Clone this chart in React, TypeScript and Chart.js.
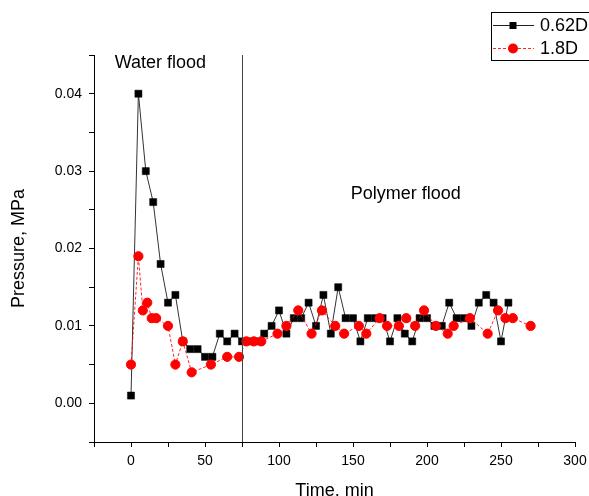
import React, { useEffect, useRef } from "react";
import { Chart, registerables } from "chart.js";

Chart.register(...registerables);

// 0.62D series
const timeA = [0, 5, 10, 15, 20, 25, 30, 35, 40, 45, 50, 55, 60, 65, 70, 75, 80, 85, 90, 95, 100, 105, 110, 115, 120, 125, 130, 135, 140, 145, 150, 155, 160, 165, 170, 175, 180, 185, 190, 195, 200, 205, 210, 215, 220, 225, 230, 235, 240, 245, 250, 255];
const pressA = [0.001, 0.040, 0.030, 0.026, 0.018, 0.013, 0.014, 0.008, 0.007, 0.007, 0.006, 0.006, 0.009, 0.008, 0.009, 0.008, 0.008, 0.008, 0.009, 0.010, 0.012, 0.009, 0.011, 0.011, 0.013, 0.010, 0.014, 0.009, 0.015, 0.011, 0.011, 0.008, 0.011, 0.011, 0.011, 0.008, 0.011, 0.009, 0.008, 0.011, 0.011, 0.010, 0.010, 0.013, 0.011, 0.011, 0.010, 0.013, 0.014, 0.013, 0.008, 0.013];

// 1.8D series
const timeB = [0, 5, 8, 11, 14, 17, 25, 30, 35, 41, 54, 65, 73, 78, 83, 88, 99, 105, 113, 122, 129, 138, 144, 154, 159, 168, 173, 181, 186, 192, 198, 206, 214, 218, 229, 241, 248, 253, 258, 270];
const pressB = [0.005, 0.019, 0.012, 0.013, 0.011, 0.011, 0.010, 0.005, 0.008, 0.004, 0.005, 0.006, 0.006, 0.008, 0.008, 0.008, 0.009, 0.010, 0.012, 0.009, 0.012, 0.010, 0.009, 0.010, 0.009, 0.011, 0.010, 0.010, 0.011, 0.010, 0.012, 0.010, 0.009, 0.010, 0.011, 0.009, 0.012, 0.011, 0.011, 0.010];

const seriesNames = ["0.62D", "1.8D"];
const xTitle = "Time, min";
const yTitle = "Pressure, MPa";
const xRange = [-25, 300];
const yRange = [-0.005, 0.045];
const boundaryTime = 75;
const annotations = [
  { text: "Water flood", x: -11, y: 0.0433 },
  { text: "Polymer flood", x: 148.4, y: 0.0264 },
];

const FONT = "Arial, 'Liberation Sans', sans-serif";

const overlayPlugin = {
  id: "overlay",
  afterDatasetsDraw(chart: any) {
    const ctx = chart.ctx;
    const xs = chart.scales.x;
    const ys = chart.scales.y;
    const area = chart.chartArea;
    ctx.save();
    // boundary line
    const bx = Math.round(xs.getPixelForValue(boundaryTime)) + 0.5;
    ctx.strokeStyle = "#444";
    ctx.lineWidth = 1;
    ctx.beginPath();
    ctx.moveTo(bx, area.top);
    ctx.lineTo(bx, area.bottom);
    ctx.stroke();

    // annotations
    ctx.fillStyle = "#000";
    ctx.font = `18px ${FONT}`;
    ctx.textBaseline = "alphabetic";
    ctx.textAlign = "left";
    for (const a of annotations) {
      ctx.fillText(a.text, xs.getPixelForValue(a.x), ys.getPixelForValue(a.y));
    }

    // axis titles
    ctx.textAlign = "center";
    ctx.fillText(xTitle, (area.left + area.right) / 2, 496);
    ctx.save();
    ctx.translate(24, (area.top + area.bottom) / 2);
    ctx.rotate(-Math.PI / 2);
    ctx.textBaseline = "alphabetic";
    ctx.fillText(yTitle, 0, 0);
    ctx.restore();

    // legend
    ctx.strokeStyle = "#000";
    ctx.lineWidth = 1;
    ctx.strokeRect(491.5, 12.5, 130, 48);
    // row 1
    ctx.strokeStyle = "#222";
    ctx.beginPath();
    ctx.moveTo(493, 25.5);
    ctx.lineTo(534, 25.5);
    ctx.stroke();
    ctx.fillStyle = "#000";
    ctx.fillRect(509.5, 22, 7, 7);
    // row 2
    ctx.strokeStyle = "rgba(255,0,0,0.85)";
    ctx.setLineDash([3, 2]);
    ctx.beginPath();
    ctx.moveTo(493, 48.5);
    ctx.lineTo(534, 48.5);
    ctx.stroke();
    ctx.setLineDash([]);
    ctx.fillStyle = "#ff0000";
    ctx.beginPath();
    ctx.arc(513, 48.5, 5, 0, Math.PI * 2);
    ctx.fill();
    ctx.fillStyle = "#000";
    ctx.textAlign = "left";
    ctx.textBaseline = "middle";
    ctx.fillText(seriesNames[0], 540, 26);
    ctx.fillText(seriesNames[1], 540, 49);
    ctx.restore();
  },
};

export default function App() {
  const ref = useRef<HTMLCanvasElement>(null);
  useEffect(() => {
    if (!ref.current) return;
    const chart = new Chart(ref.current, {
      type: "line",
      data: {
        datasets: [
          {
            label: seriesNames[0],
            data: timeA.map((t, i) => ({ x: t, y: pressA[i] })),
            borderColor: "#333",
            borderWidth: 1,
            pointStyle: "rect",
            pointRadius: 5,
            pointBackgroundColor: "#000",
            pointBorderColor: "#000",
            pointBorderWidth: 0.5,
            tension: 0,
            order: 2,
          },
          {
            label: seriesNames[1],
            data: timeB.map((t, i) => ({ x: t, y: pressB[i] })),
            borderColor: "rgba(255,0,0,0.85)",
            borderWidth: 1,
            borderDash: [3, 2],
            pointStyle: "circle",
            pointRadius: 4.6,
            pointBackgroundColor: "#ff0000",
            pointBorderColor: "#ff0000",
            pointBorderWidth: 1,
            tension: 0,
            order: 1,
          },
        ],
      },
      options: {
        animation: false,
        responsive: false,
        maintainAspectRatio: false,
        layout: { padding: { top: 55, right: 14, left: 0, bottom: 0 } },
        plugins: { legend: { display: false }, tooltip: { enabled: false } },
        scales: {
          x: {
            type: "linear",
            min: xRange[0],
            max: xRange[1],
            afterFit: (s: any) => {
              s.height = 54;
              s.paddingLeft = 0;
              s.paddingRight = 0;
            },
            ticks: {
              stepSize: 25,
              autoSkip: false,
              maxRotation: 0,
              padding: 6,
              color: "#000",
              font: { size: 14, family: FONT },
              callback: (v: any) => (Math.abs(v % 50) < 1e-6 ? String(v) : ""),
            },
            grid: { display: true, drawOnChartArea: false, drawTicks: true, tickLength: 5, color: "#000" },
            border: { display: true, color: "#000", width: 1 },
          },
          y: {
            type: "linear",
            min: yRange[0],
            max: yRange[1],
            afterFit: (s: any) => {
              s.width = 94;
              s.paddingTop = 0;
              s.paddingBottom = 0;
            },
            ticks: {
              stepSize: 0.005,
              autoSkip: false,
              padding: 7,
              color: "#000",
              font: { size: 14, family: FONT },
              callback: (v: any) => {
                const r = v / 0.01;
                if (Math.abs(r - Math.round(r)) > 1e-6) return "";
                const n = Math.round(r) / 100;
                return (n === 0 ? 0 : n).toFixed(2);
              },
            },
            grid: { display: true, drawOnChartArea: false, drawTicks: true, tickLength: 5, color: "#000" },
            border: { display: true, color: "#000", width: 1 },
          },
        },
      },
      plugins: [overlayPlugin],
    });
    return () => chart.destroy();
  }, []);
  return (
    <div style={{ position: "absolute", left: 0, top: 0, width: 589, height: 496, background: "#fff" }}>
      <canvas ref={ref} width={589} height={496} style={{ display: "block", width: 589, height: 496 }} />
    </div>
  );
}
